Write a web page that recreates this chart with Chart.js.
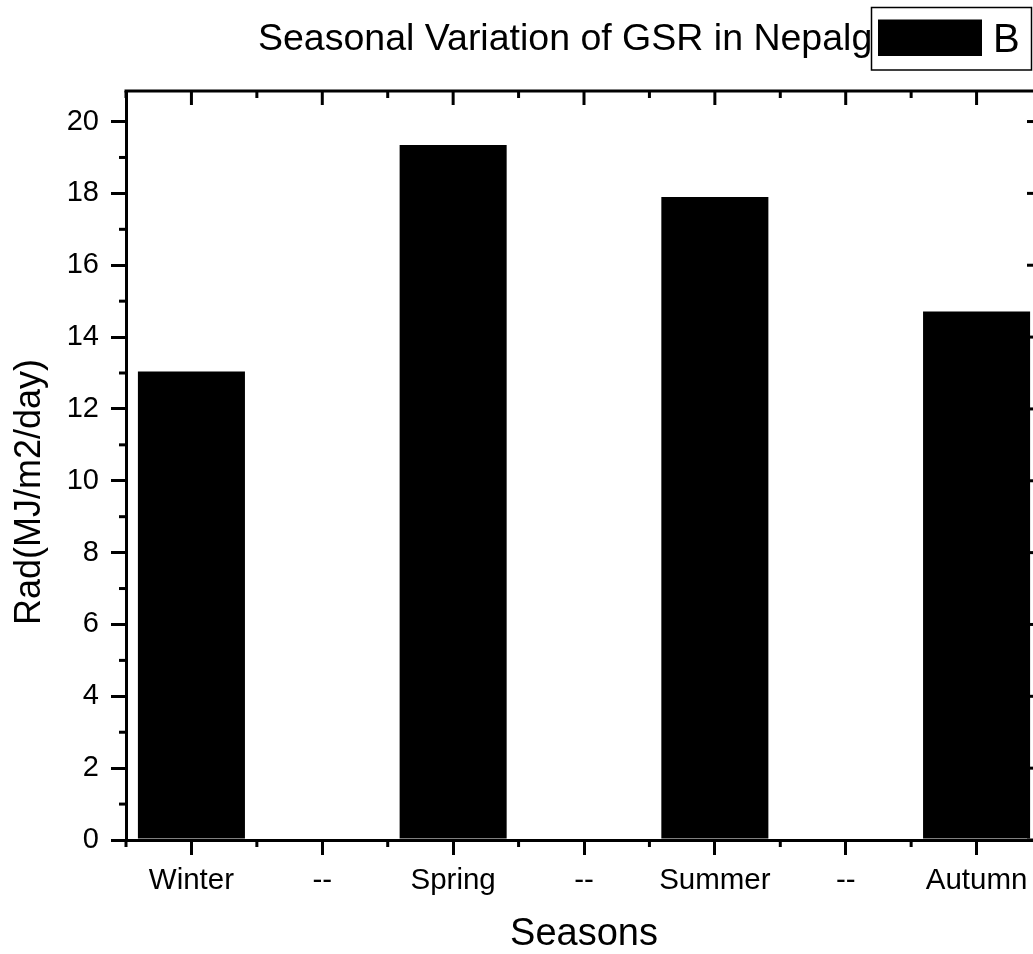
<!DOCTYPE html>
<html>
<head>
<meta charset="utf-8">
<script src="https://cdn.jsdelivr.net/npm/chart.js@4"></script>
<style>
html,body{margin:0;padding:0;overflow:hidden;background:#fff}
canvas{display:block}
</style>
</head>
<body>
<canvas id="c" width="1050" height="954" style="width:1050px;height:954px"></canvas>
<script>
// ---- data ----
const categories = ['Winter', '--', 'Spring', '--', 'Summer', '--', 'Autumn'];
const radValues = [13.04, null, 19.35, null, 17.90, null, 14.71];
const yTicks = [0, 2, 4, 6, 8, 10, 12, 14, 16, 18, 20];
const yMinorTicks = [1, 3, 5, 7, 9, 11, 13, 15, 17, 19];
const yMax = 20.85;
const seriesLabel = 'B';
const chartTitle = 'Seasonal Variation of GSR in Nepalg';
const xTitle = 'Seasons';
const yTitle = 'Rad(MJ/m2/day)';

const FONT = "'Liberation Sans', Arial, Helvetica, sans-serif";
Chart.defaults.font.family = FONT;
Chart.defaults.color = '#000';

const framePlugin = {
  id: 'frame',
  afterDraw(chart) {
    const { ctx, chartArea: a, scales: { x, y } } = chart;
    const line = (x1, y1, x2, y2) => { ctx.beginPath(); ctx.moveTo(x1, y1); ctx.lineTo(x2, y2); ctx.stroke(); };
    ctx.save();
    ctx.strokeStyle = '#000';
    ctx.lineWidth = 3;
    ctx.lineCap = 'butt';
    // top and right frame
    line(a.left - 1.5, a.top, a.right + 1.5, a.top);
    line(a.right, a.top, a.right, a.bottom);
    // y minor ticks (left outward, right inward)
    yMinorTicks.forEach(v => {
      const p = y.getPixelForValue(v);
      line(a.left, p, a.left - 7, p);
      line(a.right, p, a.right - 7, p);
    });
    // right major ticks inward
    yTicks.forEach(v => {
      const p = y.getPixelForValue(v);
      line(a.right, p, a.right - 15, p);
    });
    // top major ticks inward
    categories.forEach((c, i) => {
      const p = x.getPixelForValue(i);
      line(p, a.top, p, a.top + 14);
    });
    // x minor ticks at category boundaries
    for (let i = 0; i <= categories.length; i++) {
      const p = x.getPixelForValue(i - 0.5);
      line(p, a.bottom, p, a.bottom + 7);
      line(p, a.top, p, a.top + 7);
    }

    // axis titles
    ctx.fillStyle = '#000';
    ctx.textAlign = 'center';
    ctx.textBaseline = 'alphabetic';
    ctx.font = '38px ' + FONT;
    ctx.fillText(xTitle, (a.left + a.right) / 2, 945);
    ctx.font = '36px ' + FONT;
    ctx.save();
    ctx.translate(39.5, 492);
    ctx.rotate(-Math.PI / 2);
    ctx.fillText(yTitle, 0, 0);
    ctx.restore();

    // chart title
    ctx.font = '37.5px ' + FONT;
    ctx.textAlign = 'left';
    ctx.fillText(chartTitle, 258, 49.5);

    // legend box (over title)
    ctx.fillStyle = '#fff';
    ctx.fillRect(871.5, 7.5, 160, 62.5);
    ctx.lineWidth = 1.5;
    ctx.strokeRect(871.5, 7.5, 160, 62.5);
    ctx.fillStyle = chart.data.datasets[0].backgroundColor;
    ctx.fillRect(878, 19.5, 104, 36.5);
    ctx.fillStyle = '#000';
    ctx.font = '40px ' + FONT;
    ctx.fillText(chart.data.datasets[0].label, 993, 52);
    ctx.restore();
  }
};

new Chart(document.getElementById('c'), {
  type: 'bar',
  data: {
    labels: categories,
    datasets: [{
      label: seriesLabel,
      data: radValues,
      backgroundColor: '#000',
      borderWidth: 0,
      barPercentage: 0.818,
      categoryPercentage: 1.0
    }]
  },
  options: {
    responsive: false,
    animation: false,
    devicePixelRatio: 1,
    layout: { padding: { top: 91, right: 8, left: 0, bottom: 0 } },
    plugins: {
      legend: { display: false },
      title: { display: false },
      tooltip: { enabled: false }
    },
    scales: {
      x: {
        type: 'category',
        offset: true,
        afterFit: s => { s.height = 114; },
        grid: { display: true, drawOnChartArea: false, drawTicks: true, tickLength: 15, lineWidth: 3, color: '#000', offset: false },
        border: { display: true, width: 3, color: '#000' },
        ticks: { font: { size: 29.5 }, color: '#000', padding: 8, maxRotation: 0, minRotation: 0, autoSkip: false }
      },
      y: {
        type: 'linear',
        min: 0,
        max: yMax,
        afterFit: s => { s.width = 126; },
        afterBuildTicks: s => { s.ticks = yTicks.map(v => ({ value: v })); },
        grid: { display: true, drawOnChartArea: false, drawTicks: true, tickLength: 15, lineWidth: 3, color: '#000' },
        border: { display: true, width: 3, color: '#000' },
        ticks: { font: { size: 29 }, color: '#000', padding: 12, callback: v => String(v) }
      }
    }
  },
  plugins: [framePlugin]
});
</script>
</body>
</html>
